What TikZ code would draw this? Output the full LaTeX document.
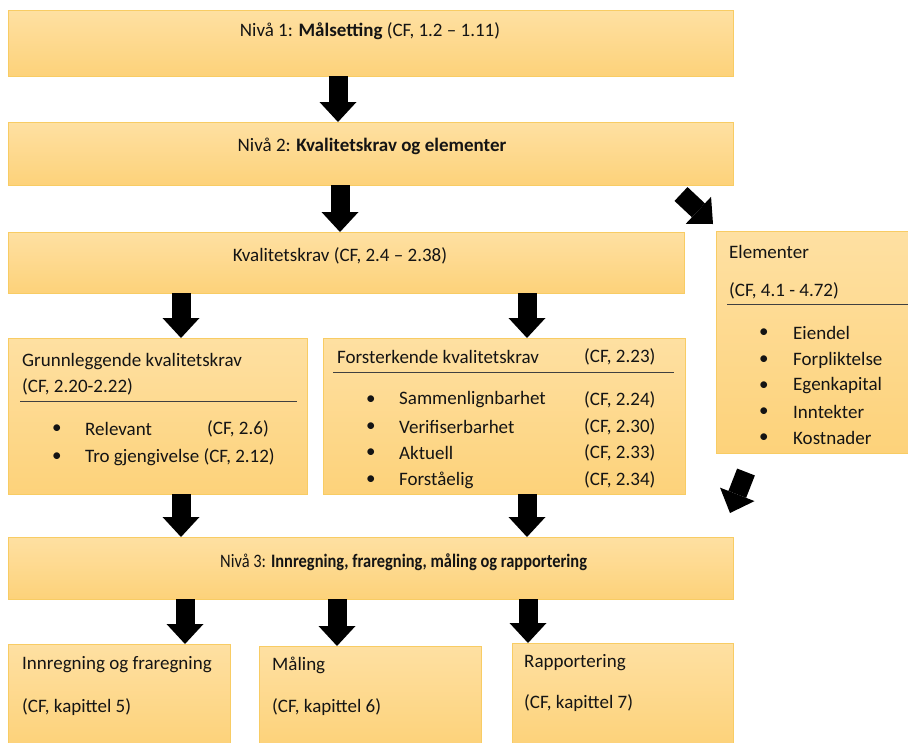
\documentclass[tikz,border=0pt]{standalone}
\usepackage{fontspec}
\setmainfont{Carlito}
\usetikzlibrary{arrows.meta}
\definecolor{boxtop}{RGB}{254,224,162}
\definecolor{boxbot}{RGB}{253,210,122}
\definecolor{boxline}{RGB}{248,204,100}
\definecolor{txt}{RGB}{20,20,20}
\tikzset{
  box/.style={draw=boxline, line width=0.8pt, top color=boxtop, bottom color=boxbot,
    anchor=north west, inner sep=0pt, outer sep=0pt},
  lbl/.style={anchor=west, inner sep=0pt, text=txt, font=\fontsize{19}{23}\selectfont},
  clbl/.style={anchor=center, inner sep=0pt, text=txt, font=\fontsize{19}{23}\selectfont},
  blockarrow/.style={line width=19pt, black,
    -{Triangle[length=20pt,width=37pt,line width=0pt]}},
  sepline/.style={draw=black!75, line width=0.8pt}
}
\begin{document}
\begin{tikzpicture}[x=1pt,y=-1pt]
\useasboundingbox (0,0) rectangle (908,742);
% boxes
\node[box, minimum width=725pt, minimum height=66pt] (b1) at (8,10) {};
\node[box, minimum width=725pt, minimum height=63pt] (b2) at (8,122) {};
\node[box, minimum width=676pt, minimum height=61pt] (b3) at (8,232) {};
\node[box, minimum width=194pt, minimum height=222pt] (bE) at (716,231) {};
\node[box, minimum width=299pt, minimum height=156pt] (bG) at (8,338) {};
\node[box, minimum width=362pt, minimum height=156pt] (bF) at (323,338) {};
\node[box, minimum width=725pt, minimum height=62pt] (bN) at (8,537) {};
\node[box, minimum width=222pt, minimum height=101pt] (bI) at (8,644) {};
\node[box, minimum width=222pt, minimum height=99pt] (bM) at (259,646) {};
\node[box, minimum width=221pt, minimum height=102pt] (bR) at (512,643) {};

% texts
\node[clbl] (t1) at (370,31) {Nivå 1: \textbf{Målsetting} (CF, 1.2 – 1.11)};
\node[clbl] (t2) at (372,146) {Nivå 2: \textbf{Kvalitetskrav og elementer}};
\node[clbl] (t3) at (340,256) {Kvalitetskrav (CF, 2.4 – 2.38)};

\node[lbl] (e1) at (729,252) {Elementer};
\node[lbl] (e2) at (729,291) {(CF, 4.1 - 4.72)};
\coordinate (eL) at (727,304);
\coordinate (eR) at (910,304);
\draw[sepline] (eL) -- (eR);
\foreach \y/\t [count=\i] in {333/Eiendel,360/Forpliktelse,386/Egenkapital,412/Inntekter,438/Kostnader}{
  \node[lbl] (eb\i) at (759,\y) {•};
  \node[lbl] (et\i) at (793,\y) {\t};
}

\node[lbl] (g1) at (22,362) {Grunnleggende kvalitetskrav};
\node[lbl] (g2) at (22,387) {(CF, 2.20-2.22)};
\coordinate (gL) at (20,401);
\coordinate (gR) at (297,401);
\draw[sepline] (gL) -- (gR);
\node[lbl] (gb1) at (52,429) {•};
\node[lbl] (gt1) at (85,429) {Relevant};
\node[lbl] (gc1) at (207,429) {(CF, 2.6)};
\node[lbl] (gb2) at (52,457) {•};
\node[lbl] (gt2) at (85,457) {Tro gjengivelse (CF, 2.12)};

\node[lbl] (f1) at (337,357) {Forsterkende kvalitetskrav};
\node[lbl] (fc0) at (584,357) {(CF, 2.23)};
\coordinate (fL) at (333,372);
\coordinate (fR) at (674,372);
\draw[sepline] (fL) -- (fR);
\foreach \y/\t/\c [count=\i] in {400/Sammenlignbarhet/2.24,427/Verifiserbarhet/2.30,453/Aktuell/2.33,480/Forståelig/2.34}{
  \node[lbl] (fb\i) at (366,\y) {•};
  \node[lbl] (ft\i) at (399,\y) {\t};
  \node[lbl] (fc\i) at (584,\y) {(CF, \c)};
}

\node[lbl] (n3) at (220,562) {\scalebox{0.865}[1]{Nivå 3: \textbf{Innregning, fraregning, måling og rapportering}}};

\node[lbl] (i1) at (22,665) {Innregning og fraregning};
\node[lbl] (i2) at (22,707) {(CF, kapittel 5)};
\node[lbl] (m1) at (272,665) {Måling};
\node[lbl] (m2) at (272,707) {(CF, kapittel 6)};
\node[lbl] (r1) at (524,663) {Rapportering};
\node[lbl] (r2) at (524,703) {(CF, kapittel 7)};

% arrows
\draw[blockarrow] ([xshift=330pt]b1.south west) -- ([xshift=330pt]b2.north west);
\draw[blockarrow] ([xshift=332pt]b2.south west) -- ([xshift=332pt]b3.north west);
\draw[blockarrow] ([xshift=173pt]b3.south west) -- ([xshift=173pt]bG.north west);
\draw[blockarrow] ([xshift=519pt]b3.south west) -- ([xshift=204pt]bF.north west);
\draw[blockarrow] ([xshift=173pt]bG.south west) -- ([xshift=173pt]bN.north west);
\draw[blockarrow] ([xshift=204pt]bF.south west) -- ([xshift=519pt]bN.north west);
\draw[blockarrow] ([xshift=177pt]bN.south west) -- ([xshift=177pt]bI.north west);
\draw[blockarrow] ([xshift=329pt]bN.south west) -- ([xshift=78pt]bM.north west);
\draw[blockarrow] ([xshift=520pt]bN.south west) -- ([xshift=16pt]bR.north west);
\coordinate (d1s) at (681,194);
\coordinate (d1e) at (713,224);
\draw[blockarrow] (d1s) -- (d1e);
\coordinate (d2s) at (746,472);
\coordinate (d2e) at (730,513);
\draw[blockarrow] (d2s) -- (d2e);
\end{tikzpicture}
\end{document}
